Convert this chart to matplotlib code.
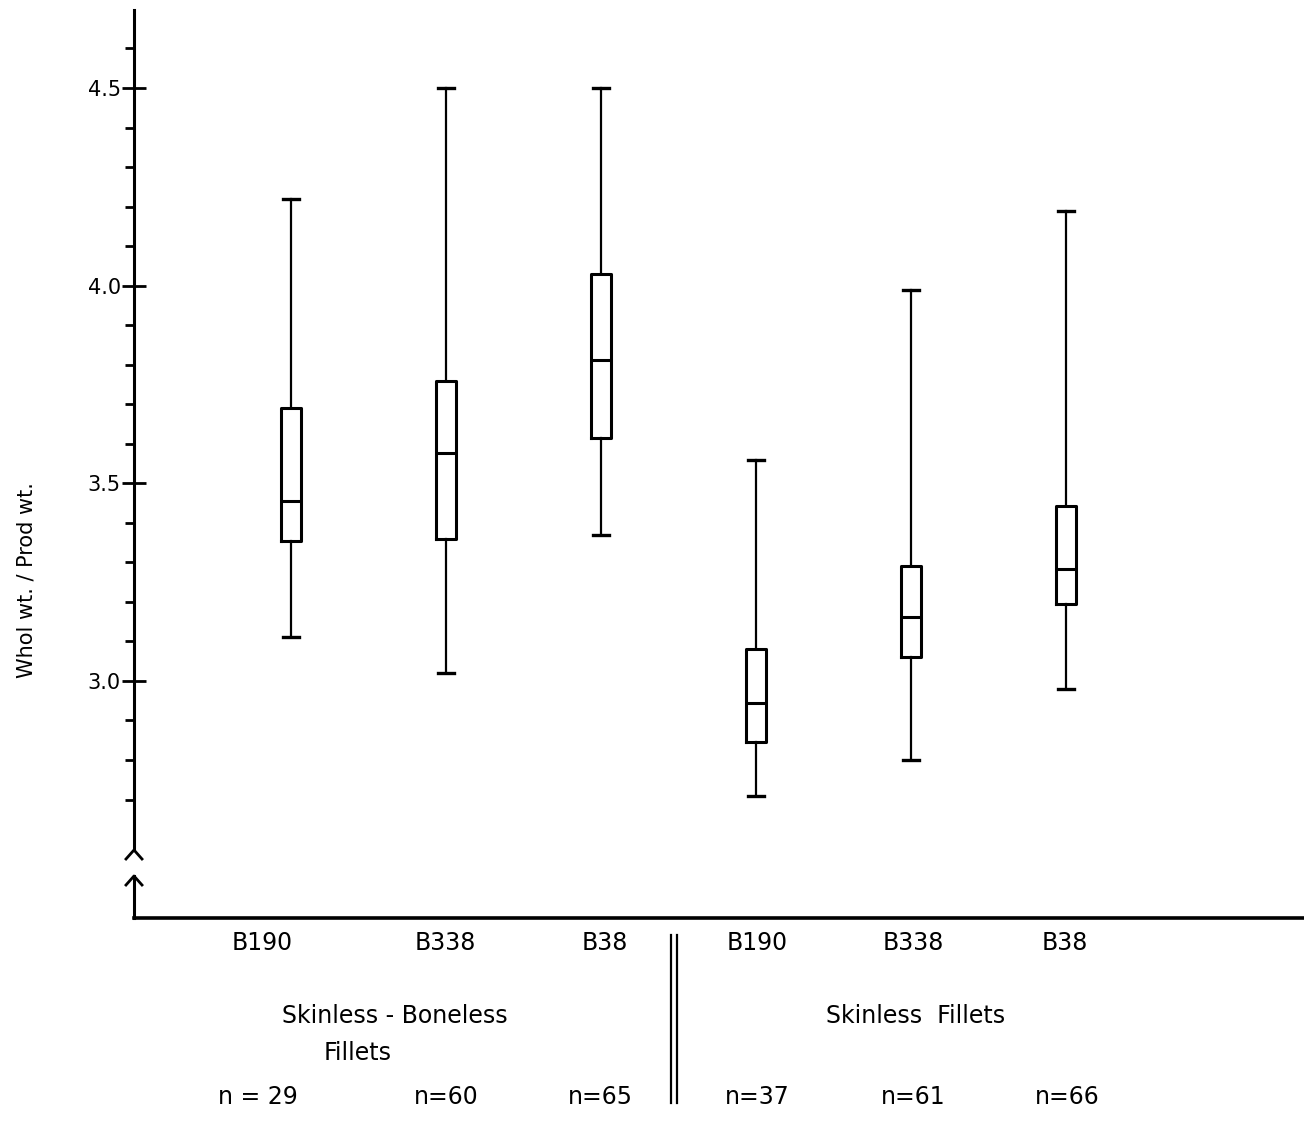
import numpy as np
import matplotlib
matplotlib.use("Agg")
import matplotlib.pyplot as plt

# box plot values
labels = ["B190", "B338", "B38", "B190", "B338", "B38"]
whislo = [3.11, 3.02, 3.37, 2.71, 2.80, 2.98]
q1 = [3.355, 3.36, 3.615, 2.845, 3.06, 3.195]
med = [3.455, 3.577, 3.812, 2.944, 3.163, 3.282]
q3 = [3.69, 3.76, 4.03, 3.08, 3.29, 3.443]
whishi = [4.22, 4.50, 4.50, 3.56, 3.99, 4.19]
n_counts = ["n = 29", "n=60", "n=65", "n=37", "n=61", "n=66"]
group_names = ["Skinless - Boneless", "Skinless  Fillets"]

W, H = 1304, 1140


def fx(x):
    return x / W


def fy(y):
    return 1 - y / H


plt.rcParams['font.family'] = ['DejaVu Sans']
fig = plt.figure(figsize=(W / 100, H / 100), dpi=100)
ax = fig.add_axes([fx(134), 0, 1 - fx(134), 1])

# pixel x = 291 + 155*pos ; pixel y = 88 + (4.5 - v)*395.3
ax.set_xlim((134 - 291) / 155, (W - 291) / 155)
ax.set_ylim(4.5 - (H - 88) / 395.3, 4.5 + 88 / 395.3)

stats = []
for i in range(len(labels)):
    stats.append(dict(whislo=whislo[i], q1=q1[i], med=med[i], q3=q3[i],
                      whishi=whishi[i], fliers=[]))
pos = np.arange(len(labels))
ax.bxp(stats, positions=pos, widths=0.135, capwidths=0.1,
       showfliers=False, manage_ticks=False,
       boxprops=dict(color="black", linewidth=2.2),
       whiskerprops=dict(color="black", linewidth=1.6),
       capprops=dict(color="black", linewidth=2.4),
       medianprops=dict(color="black", linewidth=2.2))

# axes: broken y axis with arrow heads, long x axis
y_top = 4.697
y_brk = 4.5 - (850 - 88) / 395.3
y_arr = 4.5 - (876 - 88) / 395.3
y_x = 4.5 - (918 - 88) / 395.3
for s in ["top", "right"]:
    ax.spines[s].set_visible(False)
ax.spines["left"].set_bounds(y_brk, y_top)
ax.spines["left"].set_linewidth(2.2)
ax.spines["bottom"].set_position(("data", y_x))
ax.spines["bottom"].set_linewidth(2.6)
x0 = ax.get_xlim()[0]
dx = 8 / 155
dy = 9 / 395.3
ax.plot([x0 - dx, x0, x0 + dx], [y_brk - dy, y_brk, y_brk - dy],
        color="black", lw=2, clip_on=False)
ax.plot([x0 - dx, x0, x0 + dx], [y_arr - dy, y_arr, y_arr - dy],
        color="black", lw=2, clip_on=False)
ax.plot([x0, x0], [y_arr, y_x], color="black", lw=2.2, clip_on=False)

ax.set_xticks([])
ax.set_yticks([3.0, 3.5, 4.0, 4.5])
ax.set_yticklabels(["3.0", "3.5", "4.0", "4.5"], fontsize=15)
ax.set_yticks(np.arange(2.7, 4.65, 0.1), minor=True)
ax.tick_params(axis="y", which="major", direction="inout", length=17,
               width=2, pad=1)
ax.tick_params(axis="y", which="minor", direction="out", length=6.5,
               width=2)

fig.text(fx(27), fy(580), "Whol wt. / Prod wt.", rotation=90,
         ha="center", va="center", fontsize=15)

# category labels and counts below the axis
label_px = [262, 445, 605, 757, 913, 1065]
n_px = [258, 446, 600, 757, 913, 1067]
for i in range(len(labels)):
    fig.text(fx(label_px[i]), fy(943), labels[i], ha="center", va="center",
             fontsize=17)
    fig.text(fx(n_px[i]), fy(1097), n_counts[i], ha="center", va="center",
             fontsize=17)
fig.text(fx(395), fy(1016), group_names[0], ha="center", va="center",
         fontsize=17)
fig.text(fx(358), fy(1053), "Fillets", ha="center", va="center",
         fontsize=17)
fig.text(fx(916), fy(1016), group_names[1], ha="center", va="center",
         fontsize=17)

# double separator line between the two product groups
for xp in [671, 677]:
    fig.add_artist(plt.Line2D([fx(xp), fx(xp)], [fy(935), fy(1103)],
                              color="black", lw=1.6))

fig.savefig("out.png", dpi=100)
